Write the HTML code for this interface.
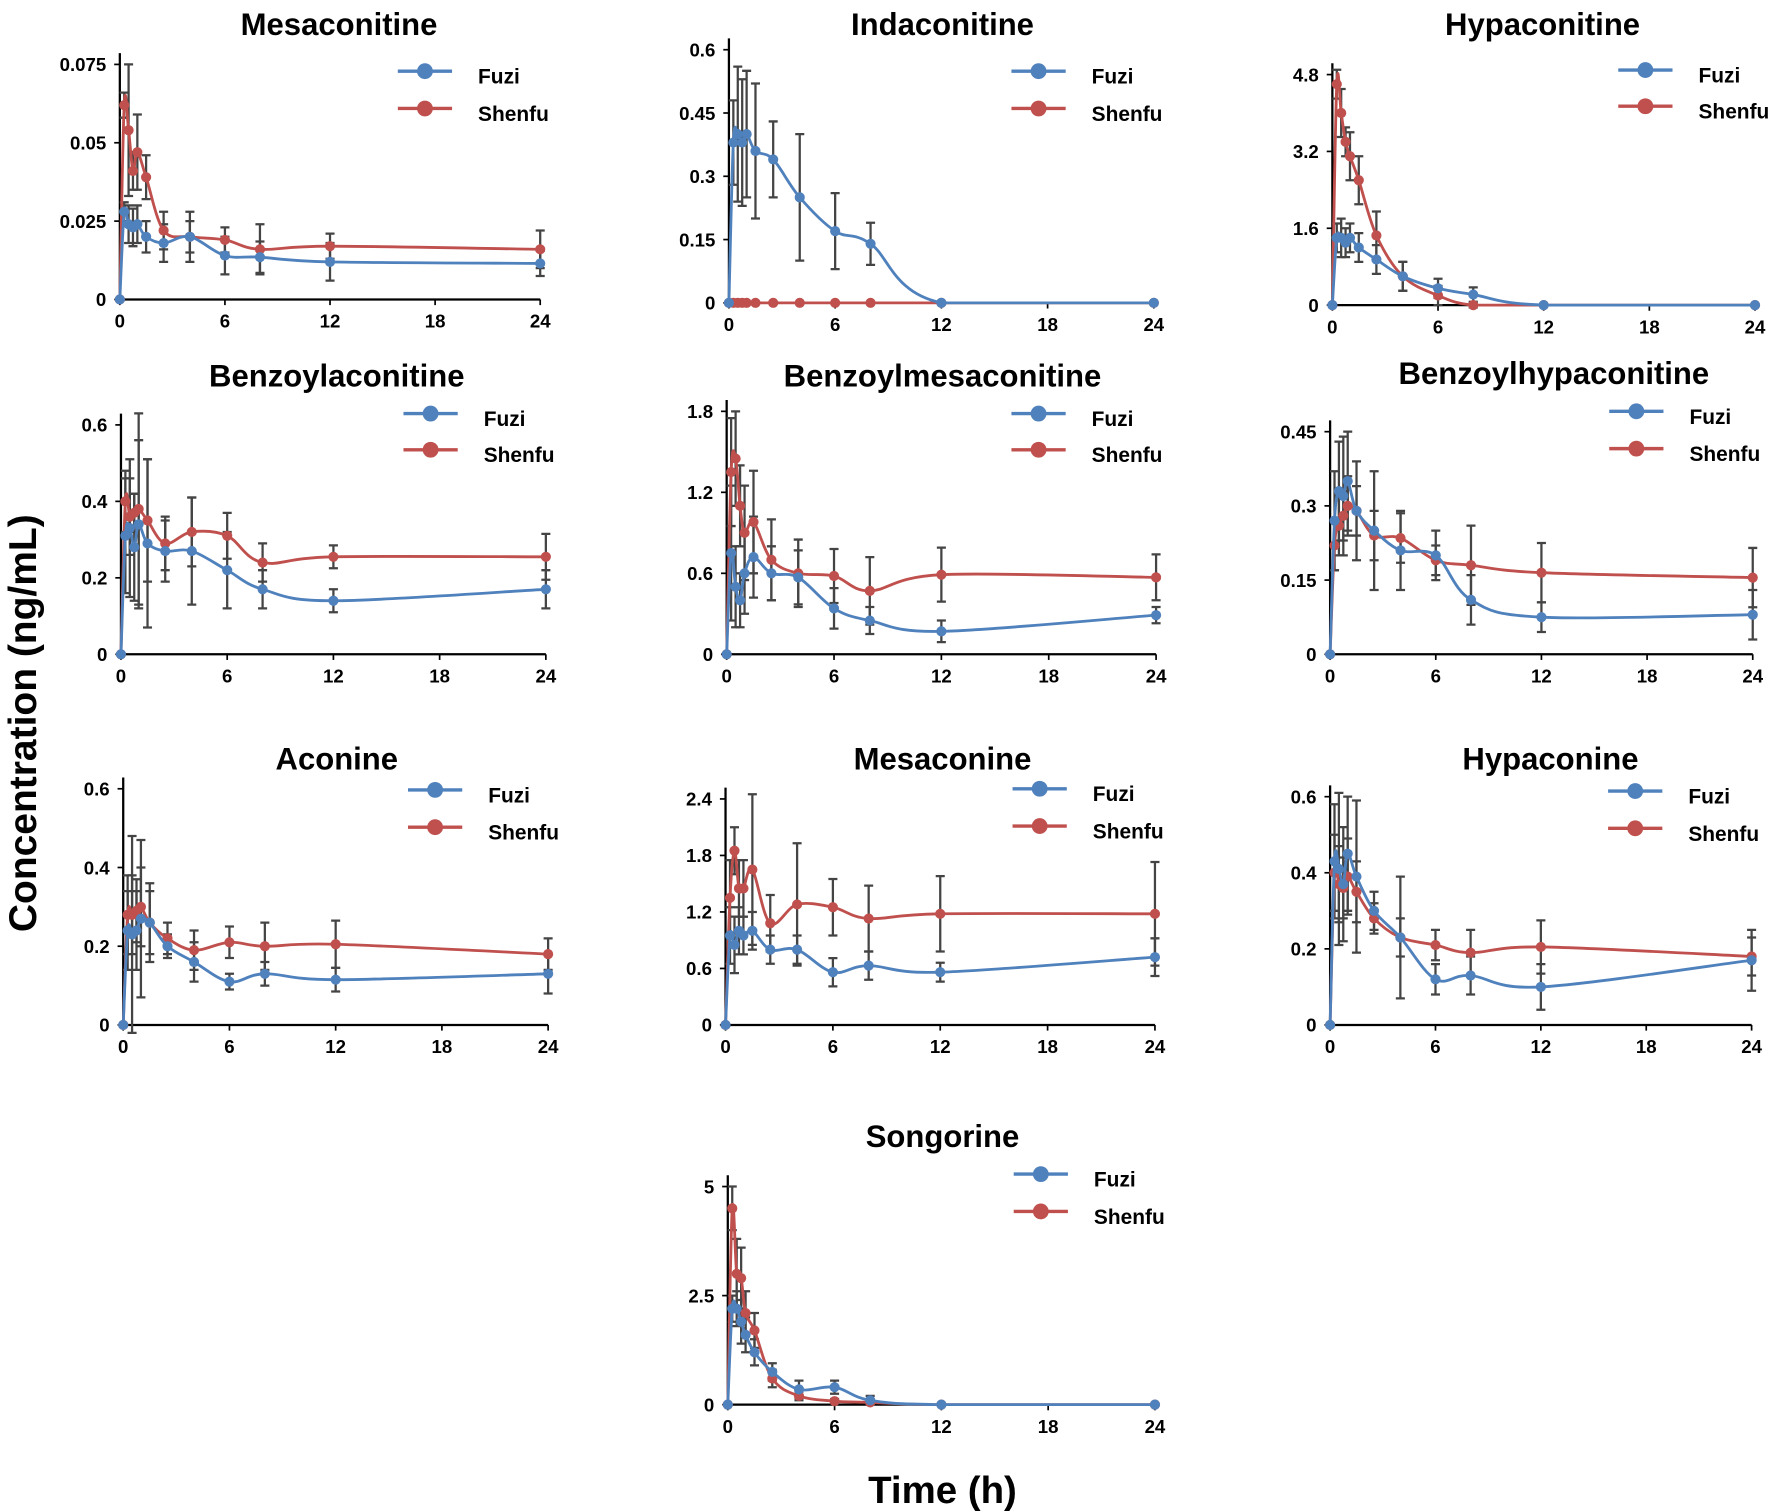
<!DOCTYPE html>
<html><head><meta charset="utf-8"><style>
html,body{margin:0;padding:0;background:#fff}
svg{display:block}
text{font-family:"Liberation Sans",Arial,sans-serif;font-weight:bold;fill:#000}
</style></head><body>
<svg id="fig" width="1772" height="1512" viewBox="0 0 1568 1338" xmlns="http://www.w3.org/2000/svg">
<text x="0" y="0" transform="translate(32,640) rotate(-90)" text-anchor="middle" font-size="34.5">Concentration (ng/mL)</text>
<text x="834" y="1330" text-anchor="middle" font-size="34">Time (h)</text>
</svg>
<script>
const times = [0,0.25,0.5,0.75,1,1.5,2.5,4,6,8,12,24];
const titles = ["Mesaconitine","Indaconitine","Hypaconitine","Benzoylaconitine","Benzoylmesaconitine","Benzoylhypaconitine","Aconine","Mesaconine","Hypaconine","Songorine"];
const yTickLabels = [
 ["0","0.025","0.05","0.075"],["0","0.15","0.3","0.45","0.6"],["0","1.6","3.2","4.8"],
 ["0","0.2","0.4","0.6"],["0","0.6","1.2","1.8"],["0","0.15","0.3","0.45"],
 ["0","0.2","0.4","0.6"],["0","0.6","1.2","1.8","2.4"],["0","0.2","0.4","0.6"],["0","2.5","5"]];
const xTickLabels = ["0","6","12","18","24"];
const fuziValues = [
 [0,0.028,0.024,0.023,0.024,0.020,0.018,0.020,0.014,0.0135,0.012,0.0115],
 [0,0.38,0.40,0.38,0.40,0.36,0.34,0.25,0.17,0.14,0,0],
 [0,1.4,1.4,1.3,1.4,1.2,0.95,0.6,0.35,0.22,0,0],
 [0,0.31,0.33,0.28,0.34,0.29,0.27,0.27,0.22,0.17,0.14,0.17],
 [0,0.75,0.5,0.4,0.6,0.72,0.6,0.57,0.34,0.25,0.17,0.29],
 [0,0.27,0.33,0.32,0.35,0.29,0.25,0.21,0.20,0.11,0.075,0.08],
 [0,0.24,0.23,0.24,0.27,0.26,0.20,0.16,0.11,0.13,0.115,0.13],
 [0,0.95,0.85,1.0,0.95,1.0,0.8,0.8,0.56,0.63,0.56,0.72],
 [0,0.43,0.41,0.37,0.45,0.39,0.30,0.23,0.12,0.13,0.10,0.17],
 [0,2.2,2.2,1.9,1.6,1.2,0.75,0.35,0.4,0.1,0,0]];
const fuziErrors = [
 [0,0.003,0.006,0.006,0.006,0.005,0.006,0.008,0.006,0.005,0.006,0.004],
 [0,0.1,0.16,0.15,0.15,0.16,0.09,0.15,0.09,0.05,0,0],
 [0,0.3,0.4,0.3,0.3,0.3,0.3,0.3,0.2,0.15,0,0],
 [0,0.15,0.18,0.14,0.22,0.22,0.08,0.14,0.1,0.05,0.03,0.05],
 [0,0.5,0.3,0.2,0.3,0.3,0.2,0.2,0.15,0.1,0.08,0.06],
 [0,0.1,0.1,0.12,0.1,0.1,0.12,0.08,0.05,0.05,0.03,0.05],
 [0,0.1,0.25,0.1,0.2,0.1,0.03,0.05,0.02,0.03,0.03,0.05],
 [0,0.3,0.3,0.25,0.2,0.2,0.15,0.15,0.15,0.15,0.1,0.2],
 [0,0.15,0.2,0.15,0.15,0.2,0.05,0.16,0.04,0.05,0.06,0.08],
 [0,0.3,0.4,0.5,0.4,0.3,0.2,0.2,0.15,0.1,0,0]];
const shenfuValues = [
 [0,0.062,0.054,0.041,0.047,0.039,0.022,0.020,0.019,0.016,0.017,0.016],
 [0,0,0,0,0,0,0,0,0,0,0,0],
 [0,4.6,4.0,3.4,3.1,2.6,1.45,0.6,0.2,0,0,0],
 [0,0.40,0.36,0.37,0.38,0.35,0.29,0.32,0.31,0.24,0.255,0.255],
 [0,1.35,1.45,1.1,0.9,0.98,0.7,0.6,0.58,0.47,0.59,0.57],
 [0,0.22,0.26,0.28,0.30,0.29,0.24,0.235,0.19,0.18,0.165,0.155],
 [0,0.28,0.28,0.29,0.30,0.26,0.22,0.19,0.21,0.20,0.205,0.18],
 [0,1.35,1.85,1.45,1.45,1.65,1.08,1.28,1.25,1.13,1.18,1.18],
 [0,0.40,0.37,0.36,0.39,0.35,0.28,0.23,0.21,0.19,0.205,0.18],
 [0,4.5,3.0,2.9,2.1,1.7,0.6,0.2,0.08,0.05,0,0]];
const shenfuErrors = [
 [0,0.004,0.021,0.006,0.012,0.007,0.006,0.005,0.004,0.008,0.004,0.006],
 [0,0,0,0,0,0,0,0,0,0,0,0],
 [0,0.3,0.5,0.3,0.5,0.5,0.5,0.3,0.2,0.05,0,0],
 [0,0.08,0.1,0.05,0.25,0.16,0.07,0.09,0.06,0.05,0.03,0.06],
 [0,0.4,0.35,0.3,0.35,0.38,0.3,0.25,0.2,0.25,0.2,0.17],
 [0,0.05,0.06,0.05,0.06,0.05,0.05,0.05,0.03,0.08,0.06,0.06],
 [0,0.1,0.1,0.08,0.1,0.08,0.04,0.05,0.04,0.06,0.06,0.04],
 [0,0.4,0.25,0.3,0.3,0.8,0.3,0.65,0.3,0.35,0.4,0.55],
 [0,0.1,0.1,0.08,0.1,0.08,0.04,0.05,0.04,0.06,0.07,0.05],
 [0,0.5,0.8,0.7,0.5,0.4,0.2,0.1,0.05,0.05,0,0]];
const yMaxes = [0.075,0.6,4.8,0.6,1.8,0.45,0.6,2.4,0.6,5];

// layout: [x0, x24, yBottom, yTopTick, titleX, titleY, legendLineX, legendY1, legendY2]
const layout = [
 [106,478,265,57,300,31,352,63,96],
 [645,1021,268,44,834,31,895,63,96],
 [1179,1553,270,66,1365,31,1432,62,94],
 [107,483,579,376,298,342,357,366,398],
 [643,1023,579,364,834,342,895,366,398],
 [1177,1551,579,382,1375,340,1424,364,397],
 [109,485,907,698,298,681,361,699,732],
 [642,1022,907,707,834,681,896,698,731],
 [1177,1550,907,705,1372,681,1423,700,733],
 [644,1022,1243,1050,834,1015,897,1039,1072]];
const BLUE="#4f81bd", RED="#c0504d", NS="http://www.w3.org/2000/svg";
const svg=document.getElementById('fig');
function mk(tag,attrs,parent){const e=document.createElementNS(NS,tag);for(const k in attrs)e.setAttribute(k,attrs[k]);(parent||svg).appendChild(e);return e;}
function smooth(pts,ymax){let d=`M${pts[0][0]},${pts[0][1]}`;for(let i=0;i<pts.length-1;i++){const p0=pts[i-1]||pts[i],p1=pts[i],p2=pts[i+1],p3=pts[i+2]||p2;const t=0.17;
 const c1=[p1[0]+(p2[0]-p0[0])*t,Math.min(ymax,p1[1]+(p2[1]-p0[1])*t)],c2=[p2[0]-(p3[0]-p1[0])*t,Math.min(ymax,p2[1]-(p3[1]-p1[1])*t)];
 d+=` C${c1[0]},${c1[1]} ${c2[0]},${c2[1]} ${p2[0]},${p2[1]}`;}return d;}
titles.forEach((title,i)=>{
 const [x0,x1,yb,yt,tx,ty,lx,ly1,ly2]=layout[i];
 const sx=t=>x0+(x1-x0)*t/24, sy=v=>yb-(yb-yt)*v/yMaxes[i];
 const g=mk('g',{});
 
 
 const tt=mk('text',{x:tx,y:ty,'text-anchor':'middle','font-size':27.5},g);tt.textContent=title;
 
 
 const ya=mk('line',{x1:x0,y1:yb,x2:x0,y2:yt-10,stroke:'#000','stroke-width':2},g);
 
 
 const xa=mk('line',{x1:x0,y1:yb,x2:x1,y2:yb,stroke:'#000','stroke-width':2},g);
 
 
 const yl=yTickLabels[i];
 yl.forEach((lab,k)=>{const y=sy(yMaxes[i]*k/(yl.length-1));
  mk('line',{x1:x0-5,y1:y,x2:x0,y2:y,stroke:'#000','stroke-width':1.5},g);
  const t=mk('text',{x:x0-12,y:y+6,'text-anchor':'end','font-size':16.5},g);t.textContent=lab;
  
  });
 xTickLabels.forEach(lab=>{const x=sx(+lab);
  mk('line',{x1:x,y1:yb,x2:x,y2:yb+5,stroke:'#000','stroke-width':1.5},g);
  const t=mk('text',{x:x,y:yb+25,'text-anchor':'middle','font-size':16.5},g);t.textContent=lab;
  
  });
 [[shenfuValues[i],shenfuErrors[i],RED,'shenfu'],[fuziValues[i],fuziErrors[i],BLUE,'fuzi']].forEach(([vals,errs,col,nm])=>{
  vals.forEach((v,k)=>{if(!errs[k])return;const x=sx(times[k]);
   const e=mk('path',{d:`M${x},${sy(v-errs[k])}V${sy(v+errs[k])}M${x-4},${sy(v-errs[k])}H${x+4}M${x-4},${sy(v+errs[k])}H${x+4}`,stroke:'#444','stroke-width':2,fill:'none'},g);
   
   });
 });
 [[shenfuValues[i],RED,'shenfu'],[fuziValues[i],BLUE,'fuzi']].forEach(([vals,col,nm])=>{
  const pts=vals.map((v,k)=>[sx(times[k]),sy(v)]);
  const l=mk('path',{d:smooth(pts,yb),stroke:col,'stroke-width':2.5,fill:'none'},g);
  
  
  pts.forEach(p=>{const c=mk('circle',{cx:p[0],cy:p[1],r:4.5,fill:col},g);
   
   });
 });
 [[ly1,BLUE,'Fuzi'],[ly2,RED,'Shenfu']].forEach(([y,col,lab])=>{
  const lg=mk('g',{},g);
  
  
  mk('line',{x1:lx,y1:y,x2:lx+48,y2:y,stroke:col,'stroke-width':3},lg);
  mk('circle',{cx:lx+24,cy:y,r:7,fill:col},lg);
  const t=mk('text',{x:lx+71,y:y+11,'font-size':18.5},lg);t.textContent=lab;});
});
</script>
</body></html>
